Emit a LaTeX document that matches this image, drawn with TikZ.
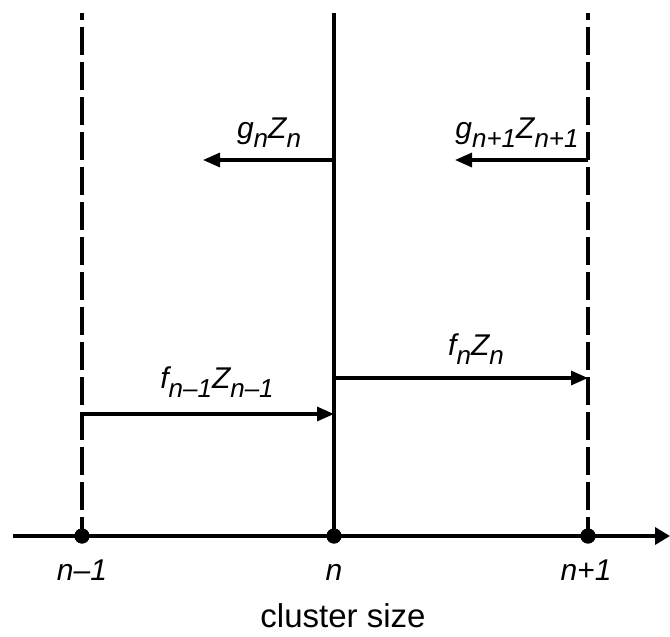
\documentclass[tikz,border=0pt]{standalone}
\usepackage{fontspec}
\setmainfont{Liberation Sans}
\usetikzlibrary{arrows.meta}
\newcommand\sbs[1]{\raisebox{-9pt}{\fontsize{26}{26}\selectfont #1}}
\begin{document}
\begin{tikzpicture}[x=1pt,y=-1pt,
  vline/.style={line width=3.2pt},
  dline/.style={line width=3.2pt,dash pattern=on 28pt off 7pt,dash phase=21pt},
  flux/.style={line width=3.2pt,-{Triangle[length=17pt,width=14pt]}},
  axisline/.style={line width=3.6pt,-{Triangle[length=15pt,width=17pt]}},
  dot/.style={circle,fill=black,inner sep=0pt,minimum size=15pt},
  lab/.style={anchor=base,inner sep=0pt,font=\fontsize{30}{32}\selectfont\itshape},
  axlab/.style={anchor=base,inner sep=0pt,font=\fontsize{33}{35}\selectfont}]
\useasboundingbox (0,0) rectangle (670,637);
% top ends of the vertical lines
\coordinate (tm) at (82,13);
\coordinate (t0) at (334,13);
\coordinate (tp) at (588,13);
% axis ends
\coordinate (ax0) at (13,536);
\coordinate (ax1) at (670,536);
% points on the axis
\node[dot] (pm) at (82,536) {};
\node[dot] (p0) at (334,536) {};
\node[dot] (pp) at (588,536) {};
% arrow anchors
\coordinate (g0s) at (334,160);
\coordinate (g0e) at (203,160);
\coordinate (g1s) at (588,160);
\coordinate (g1e) at (455,160);
\coordinate (fms) at (82,414);
\coordinate (fme) at (334,414);
\coordinate (f0s) at (334,378);
\coordinate (f0e) at (588,378);
% lines
\draw[dline] (tm) -- (pm.center);
\draw[vline] (t0) -- (p0.center);
\draw[dline] (tp) -- (pp.center);
\draw[axisline] (ax0) -- (ax1);
\draw[flux] (g0s) -- (g0e);
\draw[flux] (g1s) -- (g1e);
\draw[flux] (fms) -- (fme);
\draw[flux] (f0s) -- (f0e);
% redraw dots on top
\node[dot] at (pm) {};
\node[dot] at (p0) {};
\node[dot] at (pp) {};
% labels
\node[lab] (lg0) at (269,138) {g\sbs{n}Z\sbs{n}};
\node[lab] (lg1) at (517,138) {g\sbs{n+1}Z\sbs{n+1}};
\node[lab] (lfm) at (217,388) {f\sbs{n–1}Z\sbs{n–1}};
\node[lab] (lf0) at (476,355) {f\sbs{n}Z\sbs{n}};
\node[lab] (lm) at (82,580) {n–1};
\node[lab] (l0) at (334,580) {n};
\node[lab] (lp) at (586,580) {n+1};
\node[axlab] (xl) at (343,627) {cluster size};
\end{tikzpicture}
\end{document}
